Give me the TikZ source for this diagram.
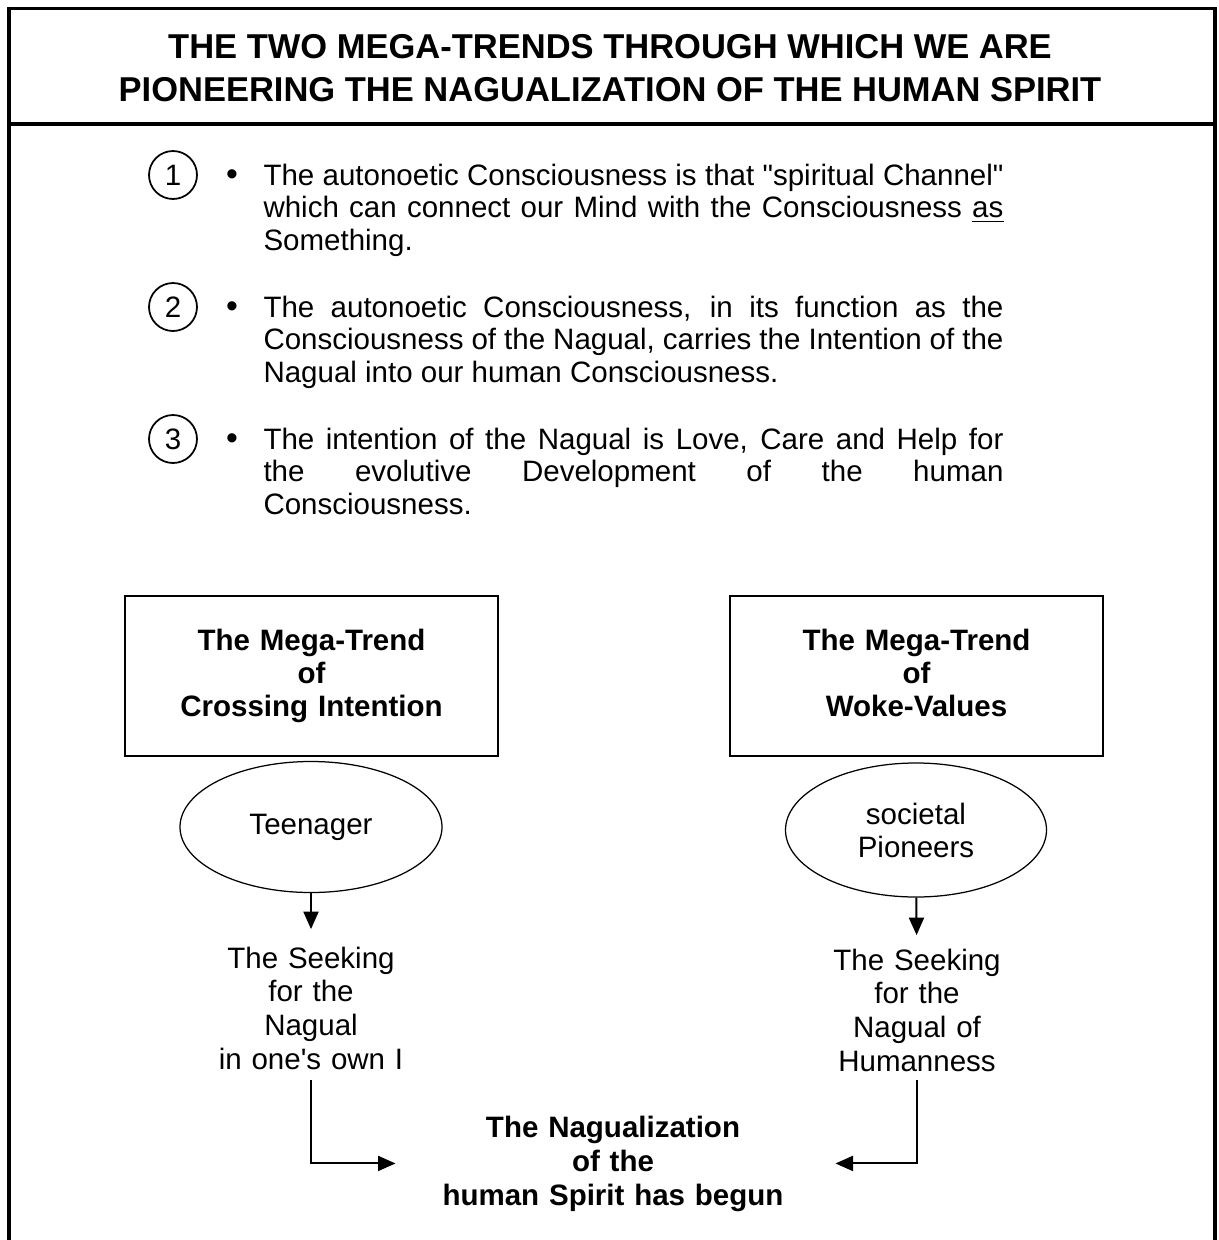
\documentclass[tikz,border=0pt]{standalone}
\usepackage{fontspec}
\setmainfont{Liberation Sans}
\usetikzlibrary{shapes.geometric,arrows.meta}

\begin{document}
\begin{tikzpicture}[x=0.4pt,y=-0.4pt,
  >={Triangle[length=7pt,width=6pt]},
  frame/.style={line width=1.5pt},
  heading/.style={inner sep=0pt,align=center,font=\fontsize{13.8}{17.2}\selectfont\bfseries},
  numcirc/.style={circle,draw,line width=0.7pt,minimum size=19.2pt,inner sep=0pt,font=\fontsize{11.8}{13}\selectfont},
  bulletpt/.style={anchor=base,inner sep=0pt,font=\fontsize{13.5}{13}\selectfont},
  para/.style={anchor=base west,inner sep=0pt,text width=296pt,align=justify,font={\fontsize{11.8}{13.1}\selectfont},
    execute at begin node={\tolerance=9999\hyphenpenalty=10000\relax}},
  trend/.style={draw,line width=0.6pt,minimum width=149.2pt,minimum height=64pt,text width=140pt,align=center,font=\fontsize{11.8}{13.2}\selectfont\bfseries},
  actor/.style={ellipse,draw,line width=0.5pt,minimum width=104.8pt,minimum height=52.4pt,inner sep=0pt,align=center,font=\fontsize{11.8}{13.2}\selectfont},
  seek/.style={anchor=base,inner sep=0pt,text width=80pt,align=center,font=\fontsize{11.8}{13.5}\selectfont},
  goalbox/.style={anchor=base,inner sep=0pt,text width=150pt,align=center,font=\fontsize{11.8}{13.6}\selectfont\bfseries},
  flow/.style={line width=0.8pt}]
\useasboundingbox (0,0) rectangle (1219,1240);
% frame and title bar
\draw[frame] (9,1240) -- (9,8.5) -- (1215,8.5) -- (1215,1240);
\draw[frame] (9,124) -- (1215,124);
\node[heading] (title) at (610,68) {THE TWO MEGA-TRENDS THROUGH WHICH WE ARE\\PIONEERING THE NAGUALIZATION OF THE HUMAN SPIRIT};
% the three statements
\node[numcirc] (n1) at (173,175) {1};
\node[numcirc] (n2) at (173,307) {2};
\node[numcirc] (n3) at (173,439) {3};
\node[bulletpt] (b1) at (232,185) {\textbullet};
\node[bulletpt] (b2) at (232,317) {\textbullet};
\node[bulletpt] (b3) at (232,449) {\textbullet};
\node[para] (p1) at (263,185) {The autonoetic Consciousness is that \textquotedbl spiritual Channel\textquotedbl\linebreak which can connect our Mind with the Consciousness \underline{as}\linebreak Something.};
\node[para] (p2) at (263,317) {The autonoetic Consciousness, in its function as the\linebreak Consciousness of the Nagual, carries the Intention of the\linebreak Nagual into our human Consciousness.};
\node[para] (p3) at (263,449) {The intention of the Nagual is Love, Care and Help for\linebreak the evolutive Development of the human\linebreak Consciousness.};
% the two mega-trends
\node[trend] (megaL) at (311.5,676) {The Mega-Trend\\of\\Crossing Intention};
\node[trend] (megaR) at (916.5,676) {The Mega-Trend\\of\\Woke-Values\vphantom{g}};
\node[actor] (teen) at (311,827) {Teenager};
\node[actor,minimum width=104.4pt,minimum height=53.6pt] (pioneer) at (916,830) {societal\\Pioneers};
\node[seek] (seekL) at (311,968) {The Seeking\\for the\\Nagual\\in one\textquotesingle s own I};
\node[seek] (seekR) at (917,970) {The Seeking\\for the\\Nagual of\\Humanness};
\node[goalbox] (goal) at (613,1137) {The Nagualization\\of the\\human Spirit has begun};
\path[->,flow]
(teen) edge[shorten >=6.8pt] (seekL)
(pioneer) edge[shorten >=5.2pt] (seekR)
;
\draw[->,flow,shorten <=4pt,shorten >=11.8pt] (seekL.south) |- (goal.west);
\draw[->,flow,shorten <=3.2pt,shorten >=13.8pt] (seekR.south) |- (goal.east);
\end{tikzpicture}
\end{document}
